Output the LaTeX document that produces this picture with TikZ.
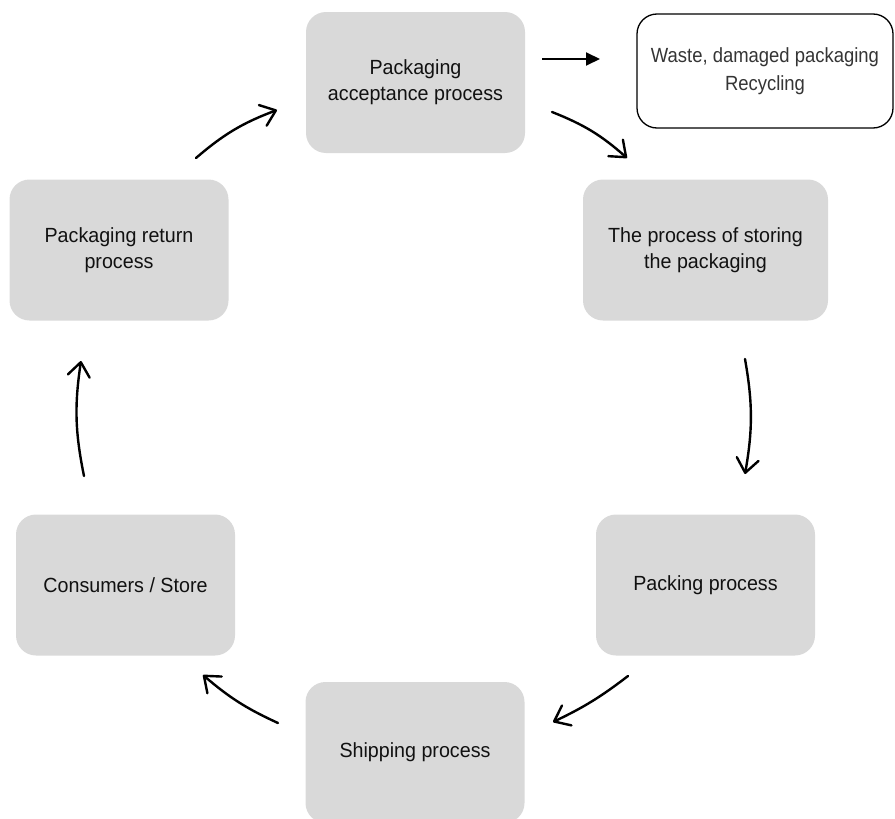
\documentclass[tikz,border=0pt]{standalone}
\usepackage{fontspec}
\setmainfont{Liberation Sans}[FakeStretch=0.96]
\newfontfamily\wastefont{Liberation Sans}[FakeStretch=0.9]
\usetikzlibrary{arrows.meta}
\definecolor{boxgrey}{HTML}{D9D9D9}
\definecolor{txtcol}{HTML}{111111}
\begin{document}
\begin{tikzpicture}[x=1pt,y=-1pt,
  proc/.style={fill=boxgrey, draw=none, rounded corners=20pt, minimum width=219pt,
    minimum height=141pt, align=center, text=txtcol, inner sep=0pt,
    font=\fontsize{20.5}{26}\selectfont},
  wastebox/.style={draw=black, line width=1.3pt, fill=white, rounded corners=20pt,
    minimum width=256pt, minimum height=114pt, align=center, text=txtcol!85, inner sep=0pt,
    font=\wastefont\fontsize{20.5}{28}\selectfont},
  flow/.style={line width=2.4pt, line cap=round, draw=black,
    -{Straight Barb[length=14pt,width=22pt,round]}},
  plain/.style={line width=2pt, draw=black, -{Triangle[length=14pt,width=13pt]}}
]
\useasboundingbox (0,0) rectangle (895,819);

\node[proc] (acc) at (415.5,82.5) {Packaging\\acceptance process};
\node[wastebox] (waste) at (765,71) {Waste, damaged packaging\\Recycling};
\node[proc] (ret) at (119,250) {Packaging return\\process};
\node[proc, minimum width=245pt] (sto) at (705.5,250) {The process of storing\\the packaging};
\node[proc] (pack) at (705.5,585) {Packing process};
\node[proc] (cons) at (125.5,585) {Consumers / Store};
\node[proc] (ship) at (415,752.5) {Shipping process};

% free arrow ends
\coordinate (wA) at (542,59);  \coordinate (wB) at (600,59);
\coordinate (asA) at (552,112); \coordinate (asB) at (627,158);
\coordinate (spA) at (745,359); \coordinate (spB) at (745,474);
\coordinate (psA) at (628,676); \coordinate (psB) at (553,722);
\coordinate (scA) at (278,723); \coordinate (scB) at (203,675);
\coordinate (crA) at (84,476);  \coordinate (crB) at (81,361);
\coordinate (raA) at (196,158); \coordinate (raB) at (277,110);

\draw[plain] (wA) -- (wB);
\draw[flow] (asA) to[bend left=10] (asB);
\draw[flow] (spA) to[bend left=10] (spB);
\draw[flow] (psA) to[bend left=6] (psB);
\draw[flow] (scA) to[bend left=8] (scB);
\draw[flow] (crA) to[bend left=10] (crB);
\draw[flow] (raA) to[bend left=10] (raB);
\end{tikzpicture}
\end{document}
